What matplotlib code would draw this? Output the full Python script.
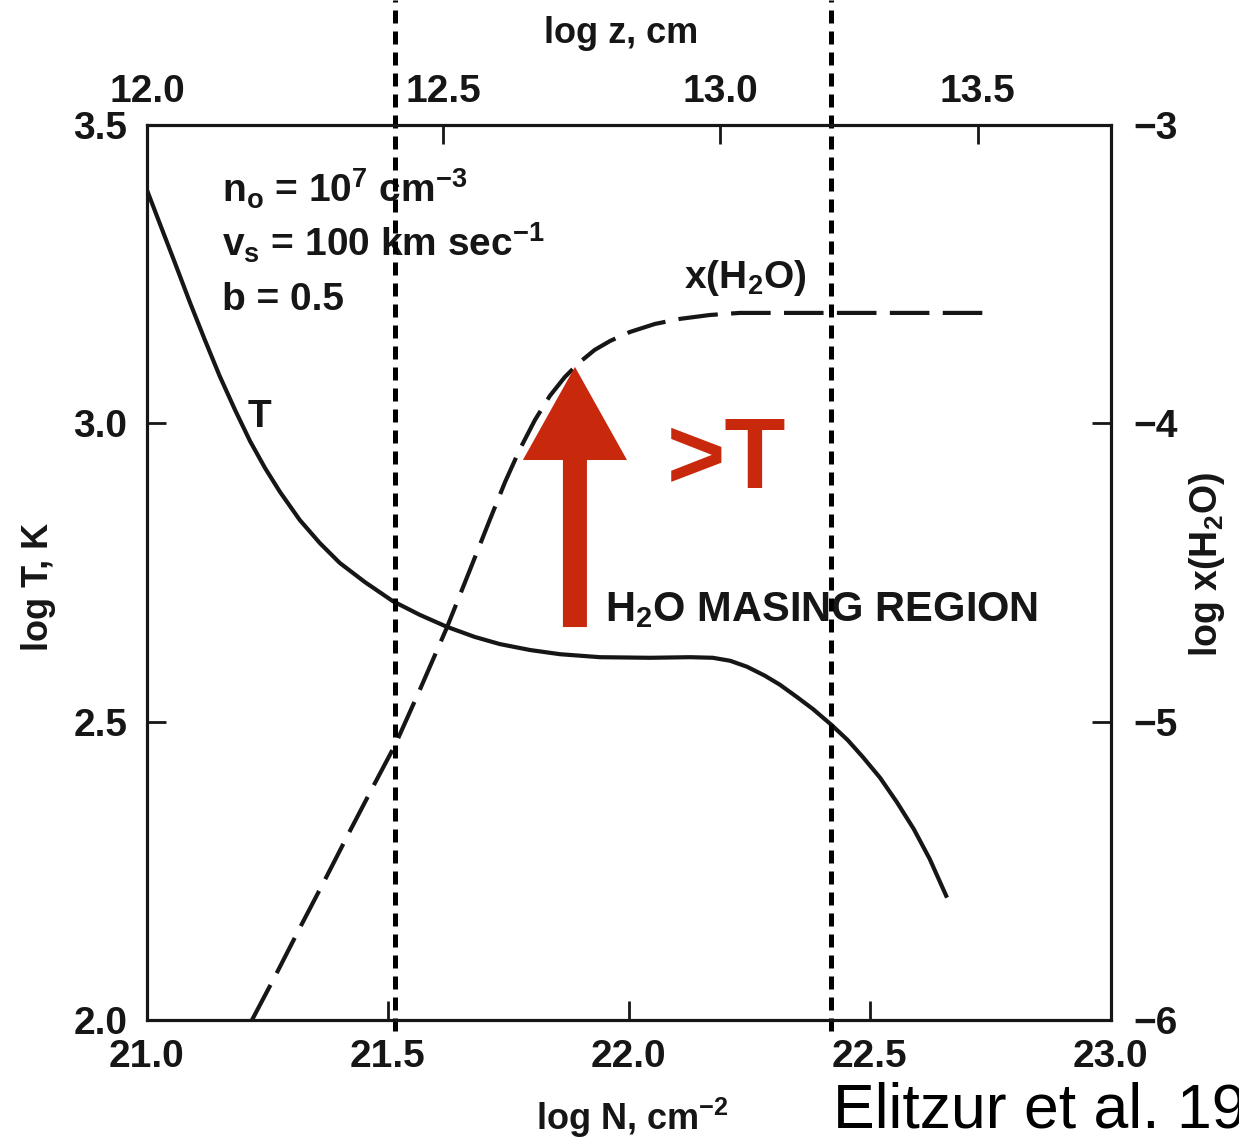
import matplotlib
matplotlib.use("Agg")
import matplotlib.pyplot as plt
from matplotlib.patches import FancyArrow
from matplotlib.ticker import FormatStrFormatter
from matplotlib.transforms import blended_transform_factory

# ---- data ----
logN_T = [21.000, 21.027, 21.058, 21.089, 21.120, 21.151, 21.183, 21.214, 21.245,
          21.276, 21.317, 21.359, 21.400, 21.452, 21.510, 21.566, 21.622, 21.680,
          21.732, 21.795, 21.857, 21.940, 22.044, 22.127, 22.174, 22.210, 22.245,
          22.282, 22.313, 22.349, 22.382, 22.421, 22.454, 22.485, 22.521, 22.556,
          22.591, 22.624, 22.660]
logT = [3.391, 3.334, 3.269, 3.203, 3.140, 3.079, 3.022, 2.970, 2.925,
        2.885, 2.838, 2.799, 2.766, 2.734, 2.702, 2.679, 2.659, 2.642,
        2.630, 2.620, 2.613, 2.608, 2.607, 2.608, 2.607, 2.602, 2.592,
        2.577, 2.562, 2.541, 2.521, 2.494, 2.469, 2.441, 2.406, 2.365,
        2.320, 2.270, 2.205]

logN_x = [21.218, 21.266, 21.317, 21.369, 21.421, 21.473, 21.515, 21.566, 21.622,
          21.670, 21.712, 21.743, 21.774, 21.805, 21.836, 21.867, 21.898, 21.929,
          21.961, 22.002, 22.054, 22.106, 22.168, 22.230, 22.755]
logx = [-6.000, -5.853, -5.692, -5.531, -5.367, -5.206, -5.078, -4.894, -4.686,
        -4.492, -4.321, -4.197, -4.086, -3.989, -3.908, -3.845, -3.795, -3.754,
        -3.724, -3.694, -3.667, -3.650, -3.637, -3.630, -3.630]

masing_bounds = [21.515, 22.42]          # dotted vertical lines (log N)

logN_ticks = [21.0, 21.5, 22.0, 22.5, 23.0]
logT_ticks = [2.0, 2.5, 3.0, 3.5]
logx_ticks = [-6, -5, -4, -3]
logz_labels = ["12.0", "12.5", "13.0", "13.5"]
logz_at_logN = [21.0, 21.614, 22.189, 22.724]

arrow_N = 21.888
arrow_logx_base = -4.683
arrow_logx_tip = -3.811

# ---- style ----
plt.rcParams.update({
    "font.family": ["Liberation Sans", "DejaVu Sans"],
    "font.weight": "bold",
    "mathtext.fontset": "custom",
    "mathtext.rm": "Liberation Sans:bold",
    "mathtext.it": "Liberation Sans:bold",
    "mathtext.bf": "Liberation Sans:bold",
    "mathtext.sf": "Liberation Sans:bold",
})
INK = "#161616"
RED = "#c8280c"
FS = 28

fig = plt.figure(figsize=(12.39, 11.39), dpi=100)
fig.patch.set_facecolor("white")
ax = fig.add_axes([0.1186, 0.1045, 0.778, 0.7858])
ax2 = ax.twinx()
ax3 = ax.twiny()

ax.plot(logN_T, logT, color=INK, lw=3.0, solid_capstyle="butt",
        solid_joinstyle="round", zorder=3)
ax2.plot(logN_x, logx, color=INK, lw=3.0, dashes=(9.5, 3.2), zorder=3)

ax.set_xlim(21.0, 23.0)
ax.set_ylim(2.0, 3.5)
ax2.set_ylim(-6, -3)
ax3.set_xlim(21.0, 23.0)

ax.set_xticks(logN_ticks)
ax.set_yticks(logT_ticks)
ax.xaxis.set_major_formatter(FormatStrFormatter("%.1f"))
ax.yaxis.set_major_formatter(FormatStrFormatter("%.1f"))
ax2.set_yticks(logx_ticks)
ax2.set_yticklabels(["\u2212%d" % abs(v) for v in logx_ticks])
ax3.set_xticks(logz_at_logN)
ax3.set_xticklabels(logz_labels)

for a in (ax, ax2, ax3):
    a.tick_params(direction="in", length=14, width=2, labelsize=FS,
                  color=INK, labelcolor=INK)
    for s in a.spines.values():
        s.set_linewidth(2.2)
        s.set_color(INK)
ax.tick_params(axis="x", pad=14)
ax.tick_params(axis="y", pad=14)
ax2.tick_params(axis="y", pad=16)
ax3.tick_params(axis="x", pad=11)

# dotted vertical boundaries
trans = blended_transform_factory(ax2.transData, ax2.transAxes)
for xb in masing_bounds:
    ax2.plot([xb, xb], [-0.012, 1.14], transform=trans, color="black",
             lw=3.6, dashes=(2.6, 1.6), clip_on=False, zorder=5)

# red arrow
ax2.add_patch(FancyArrow(arrow_N, arrow_logx_base, 0, arrow_logx_tip - arrow_logx_base,
                         width=0.0498, head_width=0.216, head_length=0.312,
                         length_includes_head=True, color=RED, lw=0, zorder=6))

# annotations
tA = ax.transAxes
ax.text(0.0778, 0.9128, r"n$_\mathrm{o}$ = 10$^7$ cm$^{-3}$", transform=tA,
        fontsize=FS, color=INK, va="baseline", ha="left")
ax.text(0.0778, 0.8525, r"v$_\mathrm{s}$ = 100 km sec$^{-1}$", transform=tA,
        fontsize=FS, color=INK, va="baseline", ha="left")
ax.text(0.0778, 0.7933, "b = 0.5", transform=tA,
        fontsize=FS, color=INK, va="baseline", ha="left")
ax.text(0.104, 0.6626, "T", transform=tA, fontsize=FS, color=INK,
        va="baseline", ha="left")
ax.text(0.557, 0.818, r"x(H$_2$O)", transform=tA, fontsize=FS,
        color=INK, va="baseline", ha="left")
ax.text(0.475, 0.446, r"H$_2$O MASING REGION", transform=tA,
        fontsize=30, color=INK, va="baseline", ha="left", zorder=7)
ax2.text(0.539, 0.594, ">T", transform=ax2.transAxes, fontsize=72,
         color=RED, va="baseline", ha="left", zorder=7)

# axis labels (figure coords)
fig.text(0.501, 0.9622, "log z, cm", fontsize=26, color=INK,
         ha="center", va="baseline")
fig.text(0.510, 0.0079, r"log N, cm$^{-2}$", fontsize=26, color=INK,
         ha="center", va="baseline")
fig.text(0.0307, 0.4846, "log T, K", fontsize=26, color=INK, rotation=90,
         ha="center", va="center")
fig.text(0.974, 0.504, r"log x(H$_2$O)", fontsize=27, color=INK,
         rotation=90, ha="center", va="center")

fig.text(0.672, 0.0105, "Elitzur et al. 1989", fontsize=45, color="black",
         fontweight="normal", ha="left", va="baseline")

fig.savefig("out.png", dpi=100, facecolor="white")
